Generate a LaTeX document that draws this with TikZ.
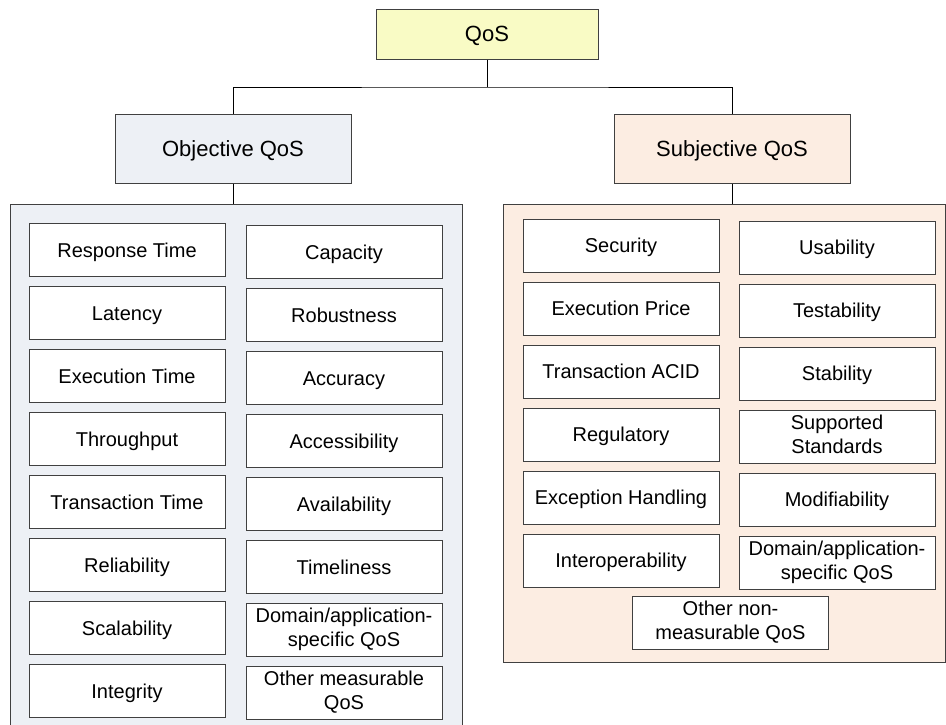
\documentclass[tikz,border=0pt]{standalone}
\usepackage{fontspec}
\setmainfont{Liberation Sans}
\definecolor{linegray}{RGB}{64,64,64}
\definecolor{rootfill}{RGB}{249,251,197}
\definecolor{objfill}{RGB}{237,240,245}
\definecolor{subjfill}{RGB}{252,237,226}
\newcommand{\itemstrut}{\rule[-4.6pt]{0pt}{23.6pt}}
\newcommand{\headstrut}{\rule[-5.2pt]{0pt}{26.2pt}}
\begin{document}
\begin{tikzpicture}[x=1pt, y=-1pt, line width=1pt,
        item/.style={draw=linegray, fill=white, minimum width=196pt, minimum height=53pt, inner sep=0pt, align=center, font=\fontsize{20}{24}\selectfont, execute at begin node=\itemstrut},
        head/.style={draw=linegray, minimum width=236pt, minimum height=69pt, inner sep=0pt, font=\fontsize{22}{26}\selectfont, execute at begin node=\headstrut},
        group/.style={draw=linegray, inner sep=0pt}]
        \useasboundingbox (0, 0) rectangle (946, 724);
        % top of the tree
        \node[head, fill=rootfill, minimum width=222pt, minimum height=50pt] (qos) at (487, 34) {QoS};
        \node[head, fill=objfill] (obj) at (233, 148.5) {Objective QoS};
        \node[head, fill=subjfill] (subj) at (732, 148.5) {Subjective QoS};
        \coordinate (split) at (487, 87);
        \draw (qos.south) -- (split);
        \draw (obj.north) |- (split) -| (subj.north);
        % the two groups
        \node[group, fill=objfill, minimum width=452pt, minimum height=524pt] (objgroup) at (236, 466) {};
        \node[group, fill=subjfill, minimum width=442pt, minimum height=458pt] (subjgroup) at (724, 433) {};
        \draw (obj.south) -- (obj.south |- objgroup.north);
        \draw (subj.south) -- (subj.south |- subjgroup.north);
        % measurable ones
        \foreach \t [count=\i] in {Response Time, Latency, Execution Time, Throughput, Transaction Time, Reliability, Scalability, Integrity}
            \node[item] (objl\i) at (127, 187+63*\i) {\t};
        \foreach \t [count=\i] in {Capacity, Robustness, Accuracy, Accessibility, Availability, Timeliness, {Domain/application-\\specific QoS}, {Other measurable\\QoS}}
            \node[item] (objr\i) at (344, 189+63*\i) {\t};
        % non-measurable ones
        \foreach \t [count=\i] in {Security, Execution Price, Transaction ACID, Regulatory, Exception Handling, Interoperability}
            \node[item] (subjl\i) at (621, 182.5+63*\i) {\t};
        \foreach \t [count=\i] in {Usability, Testability, Stability, {Supported\\Standards}, Modifiability, {Domain/application-\\specific QoS}}
            \node[item] (subjr\i) at (837, 184.5+63*\i) {\t};
        \node[item] (subjother) at (730.5, 622.5) {Other non-\\measurable QoS};
    \end{tikzpicture}
\end{document}
